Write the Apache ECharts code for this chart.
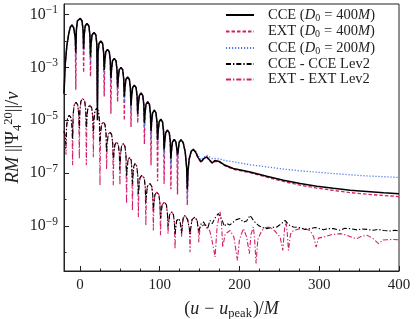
<!DOCTYPE html>
<html><head><meta charset="utf-8">
<script src="https://cdn.jsdelivr.net/npm/echarts@6/dist/echarts.min.js"></script>
<style>html,body{margin:0;padding:0;background:#fff}#c{width:416px;height:319px}</style>
</head><body><div id="c"></div>
<script>
// ---- tick values ----
const xMajorTicks = [0, 100, 200, 300, 400];
const xMinorTicks = [25, 50, 75, 125, 150, 175, 225, 250, 275, 325, 350, 375];
const yMajorExp = [-9, -7, -5, -3, -1];
const yMinorExp = [-10, -8, -6, -4, -2];

// ---- series names ----
const seriesNames = ['CCE (D0 = 400M)', 'EXT (D0 = 400M)', 'CCE (D0 = 200M)', 'CCE - CCE Lev2', 'EXT - EXT Lev2'];

// ---- upper curves: (u - u_peak)/M, shared by the three waveforms ----
const uUpper = [-20, -18.5, -16.5, -14, -12, -10, -7.9, -5.9, -5.2,
  -4.5, -3.2, 0.4, 2.6, 3.9, 4.6,
  5.3, 6.6, 8.8, 11.2, 12.5, 13.2,
  13.9, 15.2, 17.6, 19.9, 21.2, 21.9,
  22.6, 23.9, 26.2, 28.4, 29.7, 30.4,
  31.1, 32.4, 34.6, 36.8, 38.1, 38.8,
  39.5, 40.8, 43.0, 45.2, 46.5, 47.2,
  47.9, 49.2, 51.4, 53.6, 54.9, 55.6,
  56.3, 57.6, 59.8, 62.0, 63.3, 64.0,
  64.7, 66.0, 68.2, 70.4, 71.7, 72.4,
  73.1, 74.4, 76.6, 78.8, 80.1, 80.8,
  81.5, 82.8, 85.0, 87.1, 88.4, 89.1,
  89.8, 91.1, 93.2, 95.3, 96.6, 97.3,
  98.0, 99.3, 101.4, 103.5, 104.8, 105.5,
  106.2, 107.5, 109.7, 112.0, 113.3, 114.0,
  114.7, 116.0, 118.2, 120.3, 121.6, 122.3,
  123.0, 124.3, 126.7, 129.5, 132.0, 133.8, 134.6,
  135.5, 137.0, 139.5, 142.2, 145.0, 148.0, 151.8, 155.0, 159.0, 162.5, 166.0, 169.0, 171.5, 175.0, 182.0, 192.3, 213.3, 234.2, 255.1, 276.0, 297.0, 317.8, 338.8, 359.7, 380.6, 400];

// values are log10 of RM||Psi4||/nu
const cce400Log = [-4.0, -2.9, -2.2, -1.72, -1.48, -1.40, -1.50, -1.88, -2.45,
  -1.60, -1.25, -1.15, -1.25, -1.60, -2.3,
  -1.79, -1.44, -1.34, -1.44, -1.79, -2.6,
  -2.13, -1.78, -1.68, -1.78, -2.13, -5.0,
  -2.45, -2.10, -2.00, -2.10, -2.45, -3.1,
  -2.77, -2.42, -2.32, -2.42, -2.77, -3.4,
  -3.11, -2.76, -2.66, -2.76, -3.11, -3.75,
  -3.45, -3.10, -3.00, -3.10, -3.45, -4.1,
  -3.81, -3.46, -3.36, -3.46, -3.81, -4.45,
  -4.12, -3.77, -3.67, -3.77, -4.12, -4.75,
  -4.42, -4.07, -3.97, -4.07, -4.42, -5.1,
  -4.75, -4.40, -4.30, -4.40, -4.75, -5.4,
  -5.07, -4.72, -4.62, -4.72, -5.07, -5.75,
  -5.41, -5.06, -4.96, -5.06, -5.41, -6.1,
  -5.82, -5.47, -5.37, -5.47, -5.82, -6.45,
  -6.17, -5.82, -5.72, -5.82, -6.12, -6.3,
  -6.2, -5.84, -5.73, -5.85, -6.2, -6.8, -7.6,
  -6.9, -6.45, -6.17, -6.10, -6.20, -6.40, -6.57, -6.45, -6.38, -6.50, -6.61, -6.52, -6.48, -6.56, -6.70, -6.82, -6.95, -7.11, -7.26, -7.39, -7.49, -7.57, -7.64, -7.69, -7.74, -7.77];

const ext400Log = [-4.0, -2.9, -2.2, -1.72, -1.48, -1.40, -1.50, -1.88, -3.85,
  -1.60, -1.25, -1.15, -1.25, -1.60, -3.2,
  -1.79, -1.44, -1.34, -1.44, -1.79, -3.35,
  -2.13, -1.78, -1.68, -1.78, -2.13, -4.3,
  -2.45, -2.10, -2.00, -2.10, -2.45, -4.1,
  -2.77, -2.42, -2.32, -2.42, -2.77, -4.75,
  -3.11, -2.76, -2.66, -2.76, -3.11, -4.3,
  -3.45, -3.10, -3.00, -3.10, -3.45, -5.0,
  -3.81, -3.46, -3.36, -3.46, -3.81, -5.25,
  -4.12, -3.77, -3.67, -3.77, -4.12, -5.1,
  -4.42, -4.07, -3.97, -4.07, -4.42, -5.9,
  -4.75, -4.40, -4.30, -4.40, -4.75, -6.7,
  -5.07, -4.72, -4.62, -4.72, -5.07, -7.3,
  -5.41, -5.06, -4.96, -5.06, -5.41, -7.4,
  -5.82, -5.47, -5.37, -5.47, -5.82, -7.6,
  -6.17, -5.82, -5.72, -5.82, -6.12, -7.8,
  -6.2, -5.84, -5.73, -5.85, -6.2, -6.8, -8.2,
  -6.95, -6.47, -6.18, -6.11, -6.21, -6.42, -6.60, -6.47, -6.40, -6.52, -6.63, -6.55, -6.51, -6.58, -6.72, -6.85, -6.98, -7.15, -7.31, -7.45, -7.56, -7.65, -7.73, -7.79, -7.84, -7.88];

const cce200Log = [-4.0, -2.9, -2.2, -1.72, -1.48, -1.40, -1.50, -1.88, -2.7,
  -1.60, -1.25, -1.15, -1.25, -1.60, -2.5,
  -1.79, -1.44, -1.34, -1.44, -1.79, -2.8,
  -2.13, -1.78, -1.68, -1.78, -2.13, -4.4,
  -2.45, -2.10, -2.00, -2.10, -2.45, -3.3,
  -2.77, -2.42, -2.32, -2.42, -2.77, -3.6,
  -3.11, -2.76, -2.66, -2.76, -3.11, -3.95,
  -3.45, -3.10, -3.00, -3.10, -3.45, -4.3,
  -3.81, -3.46, -3.36, -3.46, -3.81, -4.7,
  -4.12, -3.77, -3.67, -3.77, -4.12, -5.0,
  -4.42, -4.07, -3.97, -4.07, -4.42, -5.3,
  -4.75, -4.40, -4.30, -4.40, -4.75, -5.7,
  -5.07, -4.72, -4.62, -4.72, -5.07, -6.0,
  -5.41, -5.06, -4.96, -5.06, -5.41, -6.4,
  -5.82, -5.47, -5.37, -5.47, -5.82, -6.8,
  -6.17, -5.82, -5.72, -5.82, -6.12, -6.7,
  -6.2, -5.84, -5.73, -5.85, -6.2, -6.8, -8.0,
  -6.95, -6.45, -6.16, -6.08, -6.16, -6.33, -6.50, -6.40, -6.32, -6.38, -6.45, -6.44, -6.43, -6.46, -6.52, -6.57, -6.68, -6.76, -6.84, -6.91, -6.96, -7.01, -7.06, -7.10, -7.13, -7.16];

// ---- resolution differences (Lev2), ringdown part shared grid ----
const uLev2Head = [-20, -18.5, -17.5,
  -16.8, -15.5, -13.4, -11.2, -9.9, -9.2,
  -8.5, -7.2, -5.0, -2.8, -1.5, -0.8,
  -0.1, 1.2, 3.4, 6.0, 7.3, 8.0,
  8.7, 10.0, 12.5, 14.8, 16.1, 16.8,
  17.5, 18.8, 21.0, 23.1, 24.4, 25.1,
  25.8, 27.1, 29.2, 31.4, 32.7, 33.4,
  34.1, 35.4, 37.6, 39.8, 41.1, 41.8,
  42.5, 43.8, 46.0, 48.1, 49.4, 50.1,
  50.8, 52.1, 54.3, 56.4, 57.7, 58.4,
  59.1, 60.3, 62.3, 64.2, 65.1, 65.8,
  66.5, 67.6, 69.0, 71.2, 72.5, 73.2,
  73.9, 75.2, 77.4, 80.6, 81.9, 82.6,
  83.3, 84.6, 87.8, 90.0, 91.3, 92.0,
  92.7, 94.0, 96.2, 99.0, 100.3, 101.0,
  101.7, 103.0, 105.8, 108.4, 109.7, 110.4,
  111.1, 112.4, 115.0, 117.2, 118.5, 119.2,
  119.9, 121.2, 123.3, 125.5, 126.8, 127.5,
  128.2, 129.5, 131.7, 135.0, 137.2, 138.0,
  138.8, 140.5, 144.3, 147.0, 148.3, 149.0];

const cceLev2HeadLog = [-5.4, -5.6, -5.9,
  -5.26, -4.91, -4.81, -4.91, -5.26, -5.7,
  -4.77, -4.42, -4.32, -4.42, -4.77, -5.3,
  -4.63, -4.28, -4.18, -4.28, -4.63, -5.3,
  -4.88, -4.53, -4.43, -4.53, -4.88, -5.5,
  -5.0, -4.65, -4.55, -4.65, -5.0, -5.9,
  -5.51, -5.16, -5.06, -5.16, -5.51, -6.2,
  -5.89, -5.54, -5.44, -5.54, -5.89, -6.5,
  -6.27, -5.92, -5.82, -5.92, -6.27, -6.85,
  -6.33, -5.98, -5.88, -5.98, -6.33, -7.1,
  -6.85, -6.50, -6.40, -6.50, -6.85, -7.4,
  -7.08, -6.73, -6.63, -6.73, -7.08, -7.8,
  -7.53, -7.18, -7.08, -7.18, -7.53, -8.1,
  -7.84, -7.49, -7.39, -7.49, -7.84, -8.4,
  -8.16, -7.81, -7.71, -7.81, -8.16, -8.7,
  -8.54, -8.19, -8.09, -8.19, -8.54, -9.0,
  -8.91, -8.56, -8.46, -8.56, -8.91, -9.3,
  -9.1, -8.8, -8.71, -8.8, -9.1, -9.25,
  -9.0, -8.69, -8.59, -8.75, -9.1, -9.3,
  -9.1, -8.75, -8.65, -8.8, -9.1, -9.2];

const extLev2HeadLog = [-5.4, -5.7, -6.3,
  -5.26, -4.91, -4.81, -4.91, -5.26, -6.7,
  -4.77, -4.42, -4.32, -4.42, -4.77, -6.45,
  -4.63, -4.28, -4.18, -4.28, -4.63, -6.7,
  -4.88, -4.53, -4.43, -4.53, -4.88, -6.4,
  -5.0, -4.65, -4.55, -4.65, -5.0, -7.45,
  -5.51, -5.16, -5.06, -5.16, -5.51, -6.85,
  -5.89, -5.54, -5.44, -5.54, -5.89, -7.45,
  -6.27, -5.92, -5.82, -5.92, -6.27, -7.45,
  -6.33, -5.98, -5.88, -5.98, -6.33, -8.15,
  -6.85, -6.50, -6.40, -6.50, -6.85, -8.4,
  -7.08, -6.73, -6.63, -6.73, -7.08, -8.65,
  -7.53, -7.18, -7.08, -7.18, -7.53, -8.97,
  -7.84, -7.49, -7.39, -7.49, -7.84, -9.16,
  -8.16, -7.81, -7.71, -7.81, -8.16, -9.34,
  -8.54, -8.19, -8.09, -8.19, -8.54, -9.28,
  -8.91, -8.56, -8.46, -8.56, -8.91, -9.85,
  -9.1, -8.8, -8.71, -8.8, -9.1, -9.4,
  -9.0, -8.69, -8.59, -8.75, -9.1, -9.98,
  -9.1, -8.75, -8.65, -8.8, -9.1, -9.6];

const uCceLev2Tail = [152, 155, 158, 160, 163, 166, 169, 173.5, 178, 181, 184, 188, 192.4, 196, 200.8, 205, 209, 213.3, 218, 223.7,
  229, 234.2, 240, 246.8, 252, 257.2, 262, 267.6, 276, 282, 288.6, 295, 305.3, 311, 317.8, 326, 332, 338.8, 348, 353,
  359.7, 368, 374, 380.6, 390, 395, 400];
const cceLev2TailLog = [-8.9, -8.84, -9.0, -9.1, -8.78, -8.9, -8.7, -8.52, -8.75, -9.0, -8.9, -8.95, -8.84, -8.75, -8.71, -8.85, -8.8, -8.59, -8.8, -8.97,
  -9.05, -9.09, -9.05, -9.03, -8.92, -8.78, -8.95, -9.03, -9.05, -9.12, -9.09, -9.05, -9.13, -9.09, -9.09, -9.15, -9.08, -9.09, -9.14, -9.10,
  -9.12, -9.15, -9.12, -9.16, -9.18, -9.15, -9.18];

const uExtLev2Tail = [150.6, 155, 159, 163, 166, 169.4, 172, 175.7, 177.5, 179, 182, 188.2, 193, 197.4, 200, 204.9, 209, 212.4, 214.5, 217.4,
  219, 220.8, 223, 227.9, 233, 238.4, 245, 251, 254.3, 256.5, 258.4, 260, 261.4, 264, 267.6, 276, 282, 288.6, 293, 296.1,
  299, 305.3, 315, 326.2, 334.6, 341, 347.2, 353, 359.7, 367, 374.3, 380, 384.8, 392, 400];
const extLev2TailLog = [-9.03, -8.95, -8.97, -9.2, -9.6, -10.16, -9.0, -8.46, -8.9, -9.79, -9.3, -9.16, -9.4, -10.29, -9.5, -9.09, -9.4, -10.04, -9.3, -9.03,
  -9.5, -10.41, -9.5, -9.16, -9.05, -9.03, -9.2, -9.41, -9.91, -9.1, -8.84, -9.3, -9.91, -9.3, -9.16, -9.09, -9.1, -9.16, -9.4, -9.79,
  -9.45, -9.41, -9.32, -9.28, -9.34, -9.42, -9.47, -9.38, -9.34, -9.45, -9.66, -9.52, -9.51, -9.50, -9.51];

// ---- build ----
function pairs(us, vs) { return us.map((u, i) => [u, vs[i]]); }
const FONT = 'Liberation Serif';
const RED = '#d4206c', BLUE = '#4f78ec', BLACK = '#000';
const LFS = 14.5;
const legendRich = {
  i: { fontStyle: 'italic', fontFamily: FONT, fontSize: LFS, lineHeight: 14, color: '#222' },
  eq: { fontFamily: FONT, fontSize: LFS, lineHeight: 14, color: '#222', padding: [0, 4, 0, 4] },
  sub: { fontFamily: FONT, fontSize: 10, lineHeight: 14, color: '#222', padding: [6, 0, 0, 0] }
};
const legendFmt = {
  'CCE (D0 = 400M)': 'CCE ({i|D}{sub|0}{eq|=}400{i|M})',
  'EXT (D0 = 400M)': 'EXT ({i|D}{sub|0}{eq|=}400{i|M})',
  'CCE (D0 = 200M)': 'CCE ({i|D}{sub|0}{eq|=}200{i|M})',
  'CCE - CCE Lev2': 'CCE - CCE Lev2',
  'EXT - EXT Lev2': 'EXT - EXT Lev2'
};

const chart = echarts.init(document.getElementById('c'), null, { renderer: 'canvas' });
const axisColor = '#222';
const common = { type: 'line', symbol: 'none', showSymbol: false, animation: false, sampling: null, xAxisIndex: 0, yAxisIndex: 0, clip: true };
chart.setOption({
  animation: false,
  grid: { left: 64, right: 17, top: 4, bottom: 48, show: true, borderColor: axisColor, borderWidth: 1, backgroundColor: 'transparent', containLabel: false, outerBoundsMode: 'none' },
  legend: {
    data: seriesNames, orient: 'vertical', left: 225, top: 7, itemWidth: 28, itemHeight: 10, itemGap: 0.5, padding: 0,
    itemStyle: { opacity: 0 },
    formatter: n => legendFmt[n],
    textStyle: { fontFamily: FONT, fontSize: LFS, color: '#222', lineHeight: 14, padding: [0, 0, 0, 9], rich: legendRich }
  },
  xAxis: [{
    type: 'value', min: -20, max: 400,
    axisLine: { onZero: false, lineStyle: { color: axisColor, width: 1 } },
    axisTick: { customValues: xMajorTicks, inside: true, length: 5, lineStyle: { color: axisColor } },
    axisLabel: { customValues: xMajorTicks, fontFamily: FONT, fontSize: 15, color: '#222', margin: 7 },
    splitLine: { show: false },
    name: '{n|(}{i|u}{m|−}{i|u}{sub|peak}{n|)/}{i|M}', nameLocation: 'middle', nameGap: 27, nameMoveOverlap: false,
    nameTextStyle: { rich: {
      n: { fontFamily: FONT, fontSize: 18, color: '#222', lineHeight: 22 },
      m: { fontFamily: FONT, fontSize: 18, color: '#222', lineHeight: 22, padding: [0, 5, 0, 5] },
      i: { fontFamily: FONT, fontStyle: 'italic', fontSize: 18, color: '#222', lineHeight: 22 },
      sub: { fontFamily: FONT, fontSize: 12.5, color: '#222', lineHeight: 22, padding: [9, 1, 0, 0] }
    } }
  }, {
    type: 'value', min: -20, max: 400, position: 'bottom',
    axisLine: { show: false, onZero: false },
    axisTick: { customValues: xMinorTicks, inside: true, length: 2.5, lineStyle: { color: axisColor } },
    axisLabel: { show: false }, splitLine: { show: false }
  }],
  yAxis: [{
    type: 'value', min: -10.69, max: -0.61,
    axisLine: { show: true, onZero: false, lineStyle: { color: axisColor, width: 1 } },
    axisTick: { show: true, customValues: yMajorExp, inside: true, length: 5, lineStyle: { color: axisColor } },
    axisLabel: {
      customValues: yMajorExp, margin: 6, color: '#222',
      formatter: v => '{b|10}{s|−' + Math.abs(v) + '}',
      rich: {
        b: { fontFamily: FONT, fontSize: 16, lineHeight: 18, color: '#222' },
        s: { fontFamily: FONT, fontSize: 11.5, lineHeight: 18, color: '#222', padding: [0, 0, 8, 0] }
      }
    },
    splitLine: { show: false },
    name: '{i|RM}{n| ||Ψ}{sub|4}{sup|20}{n|||/}{i|ν}', nameLocation: 'middle', nameGap: 40, nameRotate: 90, nameMoveOverlap: false,
    nameTextStyle: { rich: {
      n: { fontFamily: FONT, fontSize: 18.5, color: '#222', lineHeight: 22 },
      i: { fontFamily: FONT, fontStyle: 'italic', fontSize: 18.5, color: '#222', lineHeight: 22 },
      sub: { fontFamily: FONT, fontSize: 12.5, color: '#222', lineHeight: 22, padding: [9, 0, 0, 0] },
      sup: { fontFamily: FONT, fontSize: 12.5, color: '#222', lineHeight: 22, padding: [0, 0, 9, 0] }
    } }
  }, {
    type: 'value', min: -10.69, max: -0.61, position: 'left',
    axisLine: { show: false, onZero: false },
    axisTick: { show: true, customValues: yMinorExp, inside: true, length: 2.5, lineStyle: { color: axisColor } },
    axisLabel: { show: false }, splitLine: { show: false }
  }],
  series: [
    Object.assign({}, common, { name: 'EXT - EXT Lev2', data: pairs(uLev2Head.concat(uExtLev2Tail), extLev2HeadLog.concat(extLev2TailLog)),
      lineStyle: { color: RED, width: 1.1, type: [5, 2, 1.3, 2] }, itemStyle: { color: RED } }),
    Object.assign({}, common, { name: 'CCE - CCE Lev2', data: pairs(uLev2Head.concat(uCceLev2Tail), cceLev2HeadLog.concat(cceLev2TailLog)),
      lineStyle: { color: BLACK, width: 1.1, type: [5, 2, 1.3, 2] }, itemStyle: { color: BLACK } }),
    Object.assign({}, common, { name: 'EXT (D0 = 400M)', data: pairs(uUpper, ext400Log),
      lineStyle: { color: RED, width: 1.3, type: [3.5, 2] }, itemStyle: { color: RED } }),
    Object.assign({}, common, { name: 'CCE (D0 = 200M)', data: pairs(uUpper, cce200Log),
      lineStyle: { color: BLUE, width: 1.3, type: [1.2, 1.8] }, itemStyle: { color: BLUE } }),
    Object.assign({}, common, { name: 'CCE (D0 = 400M)', data: pairs(uUpper, cce400Log),
      lineStyle: { color: BLACK, width: 1.5, type: 'solid' }, itemStyle: { color: BLACK } })
  ]
});
</script></body></html>
